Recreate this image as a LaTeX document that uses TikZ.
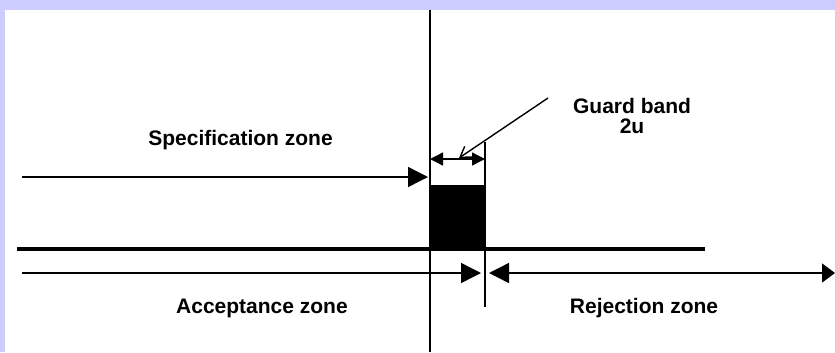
\documentclass[tikz,border=0pt]{standalone}
\usepackage{fontspec}
\setmainfont{Liberation Sans}
\usetikzlibrary{arrows.meta}
\definecolor{bgband}{HTML}{CCCCFF}
\begin{document}
\begin{tikzpicture}[x=1bp,y=-1bp,
  lbl/.style={font=\fontsize{21bp}{24bp}\selectfont\bfseries, anchor=base, inner sep=0pt},
  thin/.style={line width=1.4bp},
  bigtip/.style={-{Triangle[length=20bp,width=20bp]}},
  smalltip/.style={{Triangle[length=13bp,width=13bp]}-{Triangle[length=13bp,width=13bp]}}
]
\useasboundingbox (0,0) rectangle (835,352);
\fill[bgband] (0,0) rectangle (835,352);
\fill[white] (5,10) rectangle (835,352);

% coordinates
\coordinate (vtop) at (430,10);
\coordinate (vbot) at (430,352);
\coordinate (gtop) at (485,142);
\coordinate (gbot) at (485,307);
\coordinate (basel) at (17,249);
\coordinate (baser) at (705,249);
\coordinate (specl) at (22,177);
\coordinate (specr) at (428,177);
\coordinate (dimL) at (430,159);
\coordinate (dimR) at (485,159);
\coordinate (ptr0) at (548,98);
\coordinate (ptr1) at (459,158);
\coordinate (accl) at (22,273);
\coordinate (accr) at (481,273);
\coordinate (rejl) at (489,273);
\coordinate (rejr) at (835,273);

% lines
\draw[line width=2bp] (vtop) -- (vbot);
\draw[thin] (gtop) -- (gbot);
\fill[black] (430,185) rectangle (486,250);
\draw[line width=3.2bp] (basel) -- (baser);

% arrows
\draw[thin, bigtip] (specl) -- (specr);
\draw[thin, smalltip] (dimL) -- (dimR);
\draw[thin, -{Straight Barb[length=10bp,width=13bp]}] (ptr0) -- (ptr1);
\draw[thin, bigtip] (accl) -- (accr);
\draw[thin, {Triangle[length=20bp,width=20bp]}-{Triangle[length=13bp,width=19bp]}] (rejl) -- (rejr);

% labels
\node[lbl] (spec) at (240.5,145) {Specification zone};
\node[lbl] (guard) at (632,113) {Guard band};
\node[lbl] (twou) at (632,133) {2u};
\node[lbl] (acc) at (262,313) {Acceptance zone};
\node[lbl] (rej) at (644,313) {Rejection zone};
\end{tikzpicture}
\end{document}
